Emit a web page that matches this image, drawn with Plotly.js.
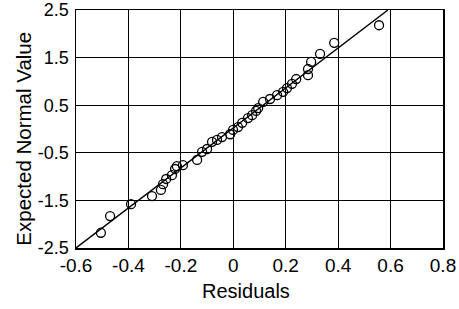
<!DOCTYPE html>
<html>
<head>
<meta charset="utf-8">
<script src="https://cdn.plot.ly/plotly-3.0.1.min.js"></script>
<style>html,body{margin:0;padding:0;background:#fff;}#chart{width:459px;height:309px;}</style>
</head>
<body>
<div id="chart"></div>
<script>
// Residuals (x) and expected normal values (y)
var residuals = [-0.505, -0.470, -0.390, -0.310, -0.276, -0.268, -0.256, -0.234, -0.222, -0.215,
                 -0.192, -0.138, -0.119, -0.100, -0.081, -0.062, -0.043, -0.012, -0.001, 0.018,
                 0.034, 0.056, 0.072, 0.087, 0.095, 0.114, 0.140, 0.167, 0.190, 0.205,
                 0.224, 0.240, 0.285, 0.285, 0.297, 0.331, 0.385, 0.556];
var expectedNormal = [-2.18, -1.83, -1.58, -1.41, -1.28, -1.16, -1.05, -0.97, -0.84, -0.78,
                      -0.76, -0.65, -0.48, -0.42, -0.27, -0.23, -0.17, -0.11, -0.02, 0.04,
                      0.13, 0.23, 0.29, 0.38, 0.44, 0.57, 0.63, 0.71, 0.78, 0.86,
                      0.95, 1.05, 1.13, 1.26, 1.41, 1.58, 1.81, 2.18];
// Reference (fitted) line end points
var lineX = [-0.6, 0.59];
var lineY = [-2.5, 2.5];
// Tick values / labels
var xTicks = [-0.6, -0.4, -0.2, 0, 0.2, 0.4, 0.6, 0.8];
var xTickText = ['-0.6', '-0.4', '-0.2', '0', '0.2', '0.4', '0.6', '0.8'];
var yTicks = [-2.5, -1.5, -0.5, 0.5, 1.5, 2.5];
var yTickText = ['-2.5', '-1.5', '-0.5', '0.5', '1.5', '2.5'];

var font = 'Liberation Sans, Arial, sans-serif';

var traces = [
  {x: lineX, y: lineY, mode: 'lines', type: 'scatter',
   line: {color: '#000', width: 1.4}, hoverinfo: 'skip', showlegend: false},
  {x: residuals, y: expectedNormal, mode: 'markers', type: 'scatter',
   marker: {symbol: 'circle-open', size: 9, color: '#000', line: {width: 1.3, color: '#000'}},
   showlegend: false}
];

var layout = {
  width: 459, height: 309,
  margin: {l: 76, r: 16, t: 10, b: 61, pad: 0},
  paper_bgcolor: '#fff', plot_bgcolor: '#fff',
  font: {family: font, size: 18, color: '#000'},
  showlegend: false,
  xaxis: {
    range: [-0.6, 0.8], tickvals: xTicks, ticktext: xTickText,
    showgrid: true, gridcolor: '#000', gridwidth: 1,
    zeroline: false, showline: true, mirror: true, linecolor: '#000', linewidth: 1.5,
    ticks: '', tickfont: {family: font, size: 19, color: '#000'},
    title: {text: ''}
  },
  yaxis: {
    range: [-2.5, 2.5], tickvals: yTicks, ticktext: yTickText,
    showgrid: true, gridcolor: '#000', gridwidth: 1,
    zeroline: false, showline: true, mirror: true, linecolor: '#000', linewidth: 1.5,
    ticks: '', ticklabelstandoff: 2, tickfont: {family: font, size: 18, color: '#000'},
    title: {text: ''}
  },
  annotations: [
    {text: 'Residuals', xref: 'paper', yref: 'paper', x: 0.463, y: -0.181,
     showarrow: false, xanchor: 'center', yanchor: 'middle',
     font: {family: font, size: 20, color: '#000'}},
    {text: 'Expected Normal Value', xref: 'paper', yref: 'paper', x: -0.144, y: 0.46,
     showarrow: false, xanchor: 'center', yanchor: 'middle', textangle: -90,
     font: {family: font, size: 20.5, color: '#000'}}
  ]
};

Plotly.newPlot('chart', traces, layout, {displayModeBar: false, staticPlot: true});
</script>
</body>
</html>
